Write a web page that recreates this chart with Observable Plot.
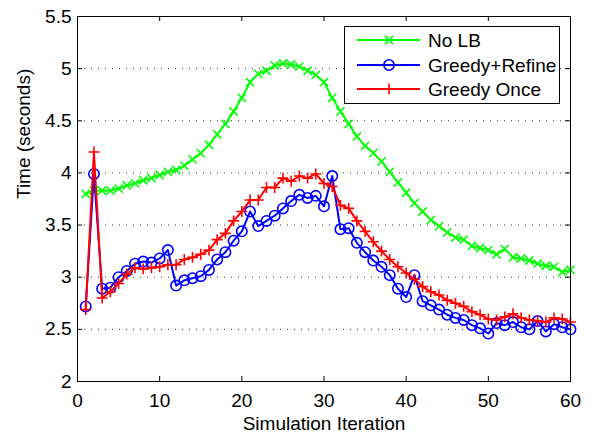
<!DOCTYPE html>
<html><head><meta charset="utf-8">
<script src="https://cdn.jsdelivr.net/npm/d3@7"></script>
<script src="https://cdn.jsdelivr.net/npm/@observablehq/plot@0.6"></script>
<style>body{margin:0;background:#fff}#chart{width:592px;height:433px}</style>
</head><body><div id="chart"></div>
<script>
const iterations = d3.range(1, 61);
const noLB = [3.80,3.83,3.83,3.83,3.85,3.88,3.90,3.93,3.95,3.98,
  4.01,4.03,4.07,4.13,4.19,4.27,4.37,4.47,4.59,4.72,
  4.87,4.95,4.98,5.03,5.05,5.04,5.02,4.98,4.94,4.87,
  4.72,4.59,4.47,4.35,4.26,4.19,4.11,4.01,3.91,3.81,
  3.71,3.63,3.55,3.49,3.43,3.38,3.36,3.30,3.28,3.26,
  3.22,3.27,3.19,3.18,3.16,3.13,3.11,3.10,3.05,3.07];
const greedyRefine = [2.72,3.99,2.89,2.90,3.00,3.06,3.13,3.15,3.14,3.18,
  3.26,2.92,2.97,2.99,3.01,3.07,3.17,3.24,3.35,3.44,
  3.63,3.49,3.54,3.59,3.66,3.73,3.79,3.76,3.78,3.68,
  3.97,3.46,3.47,3.33,3.24,3.16,3.10,3.02,2.89,2.81,
  3.02,2.77,2.73,2.69,2.64,2.61,2.59,2.54,2.51,2.46,
  2.56,2.54,2.57,2.52,2.50,2.58,2.48,2.55,2.52,2.50];
const greedyOnce = [2.69,4.20,2.80,2.86,2.94,3.03,3.09,3.08,3.09,3.10,
  3.12,3.12,3.17,3.19,3.22,3.26,3.36,3.42,3.54,3.63,
  3.74,3.74,3.86,3.86,3.95,3.92,3.97,3.95,3.99,3.90,
  3.87,3.69,3.66,3.54,3.44,3.34,3.25,3.17,3.10,3.04,
  2.98,2.91,2.86,2.83,2.78,2.75,2.72,2.67,2.64,2.60,
  2.59,2.62,2.65,2.61,2.59,2.58,2.57,2.61,2.60,2.57];
const seriesNames = ["No LB", "Greedy+Refine", "Greedy Once"];
const seriesColors = ["#00ff00", "#0000ff", "#ff0000"];
const seriesSymbols = ["times", "circle", "plus"];
const seriesR = [3.8, 5.2, 3.6];
const xTicks = [0, 10, 20, 30, 40, 50, 60];
const yTicks = [2, 2.5, 3, 3.5, 4, 4.5, 5, 5.5];
const gridTicks = [2.5, 3, 3.5, 4, 4.5, 5];
const xLabel = "Simulation Iteration";
const yLabel = "Time (seconds)";

const W = 592, H = 433, mL = 77, mR = 22, mT = 16, mB = 52;
const innerH = H - mT - mB, innerW = W - mL - mR;
const seriesVals = [noLB, greedyRefine, greedyOnce];
const data = seriesVals.map((vals, s) => iterations.map((x, i) => ({x, y: vals[i], s})));

const seriesMarks = data.flatMap((d, s) => [
  Plot.line(d, {x: "x", y: "y", stroke: seriesColors[s], strokeWidth: 2}),
  Plot.dot(d, {x: "x", y: "y", symbol: seriesSymbols[s], r: seriesR[s], stroke: seriesColors[s], fill: "none", strokeWidth: 1.6})
]);

const chart = Plot.plot({
  width: W, height: H,
  marginLeft: mL, marginRight: mR, marginTop: mT, marginBottom: mB,
  style: {fontFamily: "'Liberation Sans', Arial, sans-serif", fontSize: "19px", background: "#fff", color: "#000"},
  x: {domain: [0, 60]},
  y: {domain: [2, 5.5]},
  marks: [
    Plot.ruleY(gridTicks, {y: d => d, stroke: "#333", strokeDasharray: "1,6", strokeWidth: 1}),
    Plot.axisX({ticks: xTicks, tickSize: 0, tickPadding: 12, label: null, fontSize: 19, tickFormat: d => String(d)}),
    Plot.axisY({ticks: yTicks, tickSize: 0, tickPadding: 6, label: null, fontSize: 19, tickFormat: d => String(d)}),
    Plot.tickX(xTicks, {x: d => d, insetTop: innerH - 5, stroke: "#000"}),
    Plot.tickX(xTicks, {x: d => d, insetBottom: innerH - 5, stroke: "#000"}),
    Plot.tickY(yTicks, {y: d => d, insetRight: innerW - 5, stroke: "#000"}),
    Plot.tickY(yTicks, {y: d => d, insetLeft: innerW - 5, stroke: "#000"}),
    ...seriesMarks,
    Plot.frame({stroke: "#000", strokeWidth: 1}),
    Plot.text([xLabel], {frameAnchor: "bottom", dy: 48, fontSize: 19}),
    Plot.text([yLabel], {frameAnchor: "left", rotate: -90, dx: -54, fontSize: 19})
  ]
});
document.getElementById("chart").append(chart);

// Legend inside plot area (top-right)
const svg = d3.select(chart);
const lg = svg.append("g").attr("font-family", "'Liberation Sans', Arial, sans-serif").attr("font-size", 19).attr("text-anchor", "start");
const box = {x: 344.5, y: 26.5, w: 215, h: 77};
lg.append("rect").attr("x", box.x).attr("y", box.y).attr("width", box.w).attr("height", box.h)
  .attr("fill", "#fff").attr("stroke", "#000").attr("stroke-width", 1);
const symMap = {times: d3.symbolTimes, circle: d3.symbolCircle, plus: d3.symbolPlus};
const rowY = [40, 65, 89];
seriesNames.forEach((name, i) => {
  const g = lg.append("g");
  g.append("line").attr("x1", 357).attr("x2", 420).attr("y1", rowY[i]).attr("y2", rowY[i])
    .attr("stroke", seriesColors[i]).attr("stroke-width", 2);
  g.append("path").attr("transform", `translate(389,${rowY[i]})`)
    .attr("d", d3.symbol(symMap[seriesSymbols[i]], Math.PI * seriesR[i] * seriesR[i])())
    .attr("fill", "none").attr("stroke", seriesColors[i]).attr("stroke-width", 1.6);
  g.append("text").attr("x", 428).attr("y", rowY[i]).attr("dy", "0.35em").attr("fill", "#000")
    .attr("text-anchor", "start").text(name);
});
</script>
</body></html>
